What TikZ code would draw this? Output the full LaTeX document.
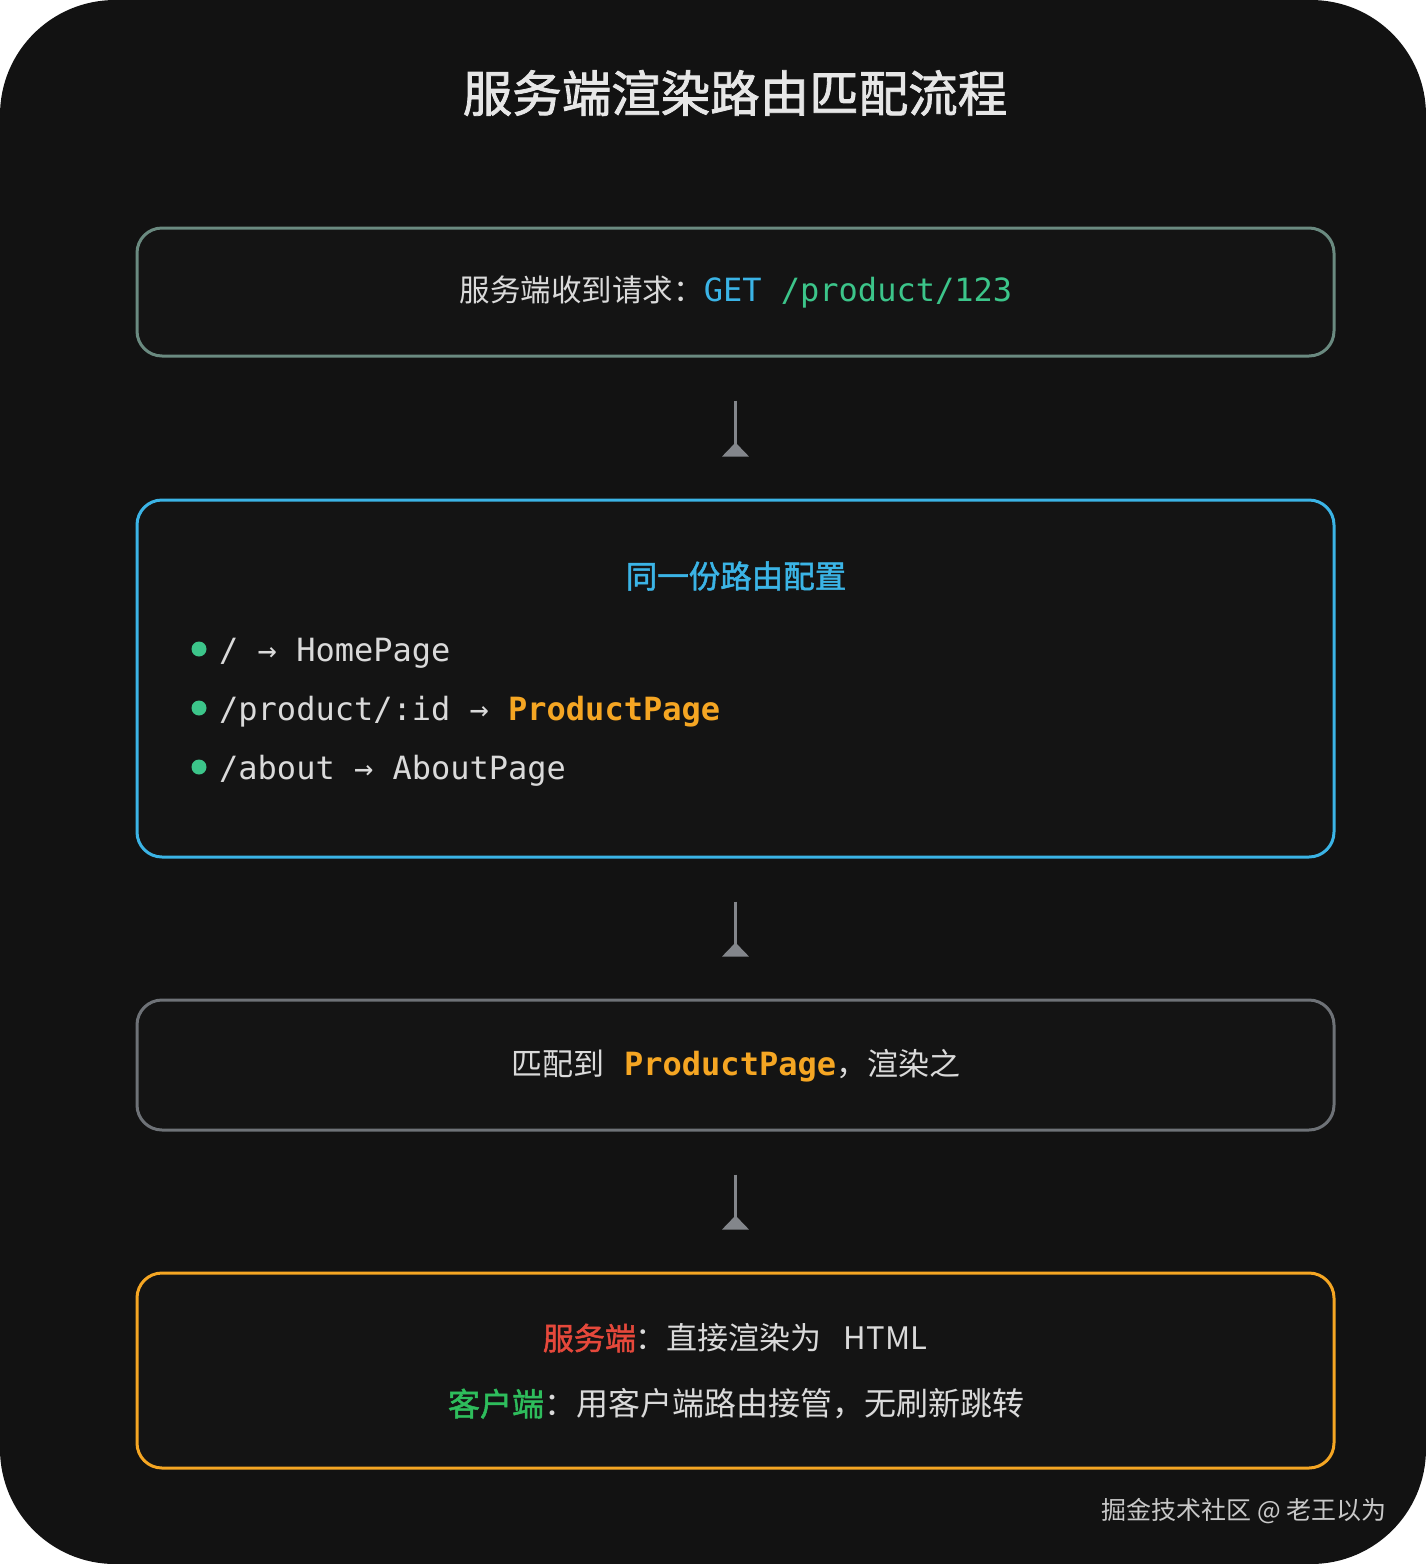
\documentclass[tikz,border=0pt]{standalone}
\usepackage{fontspec}
\setmainfont{Noto Sans CJK SC}
\setmonofont{DejaVu Sans Mono}
\newfontfamily\cjkmid{Noto Sans CJK SC}[FakeBold=1.6]
\usetikzlibrary{arrows.meta}
\definecolor{bg}{HTML}{121212}
\definecolor{boxfill}{HTML}{141414}
\definecolor{titlec}{HTML}{E6E6E6}
\definecolor{txt}{HTML}{DADADA}
\definecolor{sage}{HTML}{6A8A80}
\definecolor{blu}{HTML}{3BB4E6}
\definecolor{grn}{HTML}{3CC58A}
\definecolor{org}{HTML}{F5A623}
\definecolor{gry}{HTML}{6E7277}
\definecolor{arr}{HTML}{83868B}
\definecolor{rd}{HTML}{E5483B}
\definecolor{cgrn}{HTML}{2EBD5C}
\definecolor{foot}{HTML}{C8C8C8}
\tikzset{
  box/.style={draw, line width=3pt, rounded corners=25pt, fill=boxfill, minimum width=1197pt, inner sep=0pt},
  flow/.style={draw=arr, line width=3.5pt, -{Triangle[reversed, width=26pt, length=14pt]}, shorten <=43pt, shorten >=42pt},
  body/.style={text=txt, inner sep=0pt, font=\fontsize{30pt}{36pt}\selectfont},
  code/.style={text=txt, inner sep=0pt, anchor=base west, font=\fontsize{32pt}{38pt}\ttfamily},
  dot/.style={circle, fill=grn, inner sep=0pt, minimum size=15pt}
}
\begin{document}
\begin{tikzpicture}[x=1pt,y=-1pt]
\useasboundingbox (0,0) rectangle (1426,1564);
\fill[white] (0,0) rectangle (1426,1564);
\fill[bg, rounded corners=115pt] (0,0) rectangle (1426,1564);

\node[inner sep=0pt, text=titlec, font=\fontsize{49.5pt}{56pt}\cjkmid] (title) at (735,93) {服务端渲染路由匹配流程};

\node[box, draw=sage, minimum height=128pt] (b1) at (735.5,292) {};
\node[body, font=\fontsize{30.5pt}{36pt}\selectfont] (t1) at (736,292) {服务端收到请求：{\fontsize{32pt}{38pt}\ttfamily\color{blu}GET\ }{\fontsize{32pt}{38pt}\ttfamily\color{grn}/product/123}};

\node[box, draw=blu, minimum height=357pt] (b2) at (735.5,678.5) {};
\node[inner sep=0pt, text=blu, font=\fontsize{31.5pt}{36pt}\cjkmid] (t2) at (736,576) {同一份路由配置};
\node[dot] (d1) at (199,649) {};
\node[dot] (d2) at (199,708) {};
\node[dot] (d3) at (199,767) {};
\node[code] (r1) at (219,661) {/ → HomePage};
\node[code] (r2) at (219,720) {/product/:id → \textcolor{org}{\bfseries ProductPage}};
\node[code] (r3) at (219,779) {/about → AboutPage};

\node[box, draw=gry, minimum height=130pt] (b3) at (735.5,1065) {};
\node[body, font=\fontsize{31pt}{36pt}\selectfont] (t3) at (736,1066) {匹配到{\fontsize{32pt}{38pt}\ttfamily\bfseries\color{org}\ ProductPage}，渲染之};

\node[box, draw=org, minimum height=195pt] (b4) at (735.5,1370.5) {};
\node[body, font=\fontsize{31pt}{36pt}\selectfont] (t4a) at (735,1338) {{\cjkmid\color{rd}服务端}：直接渲染为\hspace{22pt}HTML};
\node[body, font=\fontsize{32pt}{37pt}\selectfont] (t4b) at (736,1404) {{\cjkmid\color{cgrn}客户端}：用客户端路由接管，无刷新跳转};

\draw[flow] (b1.south) -- (b2.north);
\draw[flow] (b2.south) -- (b3.north);
\draw[flow] (b3.south) -- (b4.north);

\node[inner sep=0pt, text=foot, anchor=east, font=\fontsize{25pt}{30pt}\selectfont] (footer) at (1387,1511) {掘金技术社区 @ 老王以为};
\end{tikzpicture}
\end{document}
